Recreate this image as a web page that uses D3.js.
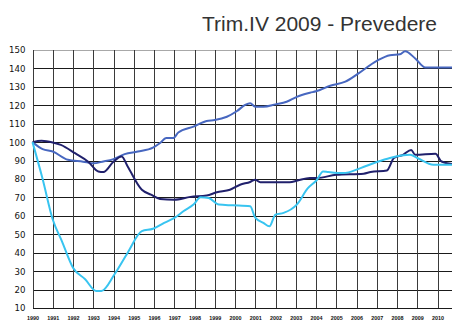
<!DOCTYPE html>
<html>
<head>
<meta charset="utf-8">
<script src="https://cdn.jsdelivr.net/npm/d3@7"></script>
<style>
  html, body { margin: 0; padding: 0; background: #fff; }
  svg { display: block; }
</style>
</head>
<body>
<svg id="chart" width="452" height="323"></svg>
<script>
// Index series, 1990 = 100
const titleText = "Trim.IV 2009 - Prevedere";
const yearTicks = d3.range(1990, 2011);
const valueTicks = d3.range(10, 151, 10);

// Series A (medium blue)
const serieATime = [1990.0, 1990.5, 1991.0, 1991.75, 1992.5, 1993.0, 1993.5, 1994.0, 1994.55, 1995.2, 1995.95, 1996.3, 1996.6, 1996.95, 1997.2, 1997.95, 1998.6, 1999.0, 1999.6, 2000.1, 2000.5, 2000.75, 2001.0, 2001.4, 2002.0, 2002.55, 2003.05, 2003.7, 2004.0, 2004.7, 2005.45, 2006.1, 2007.0, 2007.65, 2008.15, 2008.4, 2008.9, 2009.4, 2010.75];
const serieAValues = [100, 96.2, 94.9, 90.4, 89.4, 88.5, 89.5, 90.8, 93.5, 94.9, 97.0, 99.5, 102.2, 102.2, 105.2, 108.4, 111.5, 112.0, 113.8, 116.9, 120.2, 121.1, 119.2, 119.2, 120.5, 121.9, 124.6, 126.8, 127.6, 130.6, 132.8, 137.3, 144.1, 147.2, 147.7, 149.3, 145.4, 140.5, 140.5];

// Series B (navy)
const serieBTime = [1990.0, 1990.45, 1991.0, 1991.4, 1992.1, 1992.75, 1993.25, 1993.5, 1994.0, 1994.4, 1994.7, 1995.4, 1995.85, 1996.3, 1997.0, 1997.8, 1998.6, 1999.1, 1999.75, 2000.25, 2000.75, 2001.0, 2001.25, 2002.7, 2003.1, 2003.7, 2004.05, 2005.0, 2006.35, 2006.7, 2007.5, 2007.85, 2008.3, 2008.7, 2008.9, 2009.9, 2010.2, 2010.75];
const serieBValues = [100, 100.7, 99.8, 98.5, 94.0, 89.4, 84.1, 83.8, 89.4, 92.2, 86.8, 74.2, 71.5, 69.2, 68.8, 70.3, 71.0, 72.8, 74.2, 76.9, 78.4, 79.6, 78.2, 78.2, 79.2, 80.5, 80.5, 82.3, 82.9, 83.8, 84.6, 91.4, 93.1, 95.8, 93.1, 93.7, 89.5, 88.1];

// Series C (light blue)
const serieCTime = [1990.0, 1990.5, 1991.0, 1991.45, 1992.0, 1992.6, 1993.15, 1993.4, 1994.05, 1994.7, 1995.4, 1995.95, 1996.5, 1997.1, 1997.45, 1997.95, 1998.3, 1998.7, 1999.2, 1999.9, 2000.75, 2001.0, 2001.4, 2001.7, 2002.0, 2002.4, 2003.05, 2003.6, 2004.05, 2004.35, 2004.6, 2005.35, 2006.2, 2007.0, 2007.65, 2008.65, 2009.0, 2009.8, 2010.75];
const serieCValues = [100, 80.0, 58.0, 46.3, 31.9, 25.6, 19.2, 19.2, 28.3, 40.0, 51.7, 53.0, 56.2, 59.5, 62.5, 66.1, 70.1, 69.7, 66.1, 65.7, 65.2, 59.0, 56.2, 54.3, 60.7, 61.6, 66.1, 75.0, 79.6, 84.1, 83.8, 83.2, 85.9, 89.2, 91.4, 93.1, 91.4, 87.7, 87.7];

const seriesList = [
  { time: serieATime, values: serieAValues, color: "#4767c0" },
  { time: serieBTime, values: serieBValues, color: "#20206c" },
  { time: serieCTime, values: serieCValues, color: "#38c4f0" }
];

const svg = d3.select("#chart");

const x = d3.scaleLinear().domain([1990, 2010]).range([32.5, 437.5]);
const y = d3.scaleLinear().domain([10, 150]).range([308, 50]);
const rightEdge = 452;

// Grid
const grid = svg.append("g").attr("shape-rendering", "crispEdges");
grid.selectAll("line.h")
  .data(valueTicks)
  .join("line")
  .attr("class", "h")
  .attr("x1", x(1990)).attr("x2", rightEdge)
  .attr("y1", d => Math.round(y(d)) + 0.5).attr("y2", d => Math.round(y(d)) + 0.5)
  .attr("stroke", d => d === 150 ? "#a8a8a8" : "#1a1a1a")
  .attr("stroke-width", 1);
grid.selectAll("line.v")
  .data(yearTicks)
  .join("line")
  .attr("class", "v")
  .attr("x1", d => Math.round(x(d)) + 0.5).attr("x2", d => Math.round(x(d)) + 0.5)
  .attr("y1", y(150)).attr("y2", y(10))
  .attr("stroke", "#3a3a3a")
  .attr("stroke-width", d => d === 1990 ? 1.6 : 1.3);

// Y axis labels
const yAxis = d3.axisLeft(y).tickValues(valueTicks).tickSize(0).tickPadding(0);
const gy = svg.append("g").attr("transform", "translate(25.5,0)").call(yAxis);
gy.select(".domain").remove();
gy.selectAll("text")
  .attr("font-family", "'DejaVu Sans', Verdana, sans-serif")
  .attr("font-size", "8.6px")
  .attr("fill", "#111")
  .attr("dy", "0.34em");

// X axis labels
const xAxis = d3.axisBottom(x).tickValues(yearTicks).tickFormat(d3.format("d")).tickSize(0).tickPadding(0);
const gx = svg.append("g").attr("transform", "translate(0,316.5)").call(xAxis);
gx.select(".domain").remove();
gx.selectAll("text")
  .attr("font-family", "'Liberation Sans', Arial, sans-serif")
  .attr("font-weight", "bold")
  .attr("font-size", "5.4px")
  .attr("fill", "#111")
  .attr("dy", "0.71em");

// Lines
const line = d3.line().curve(d3.curveMonotoneX);
svg.append("g")
  .selectAll("path")
  .data(seriesList)
  .join("path")
  .attr("d", s => line(s.time.map((t, i) => [x(t), y(s.values[i])])))
  .attr("fill", "none")
  .attr("stroke", s => s.color)
  .attr("stroke-width", 2)
  .attr("stroke-linejoin", "round");

// Title
svg.append("text")
  .attr("x", 437)
  .attr("y", 31)
  .attr("text-anchor", "end")
  .attr("font-family", "'Liberation Sans', Arial, sans-serif")
  .attr("font-size", "21px")
  .attr("fill", "#333")
  .text(titleText);
</script>
</body>
</html>
